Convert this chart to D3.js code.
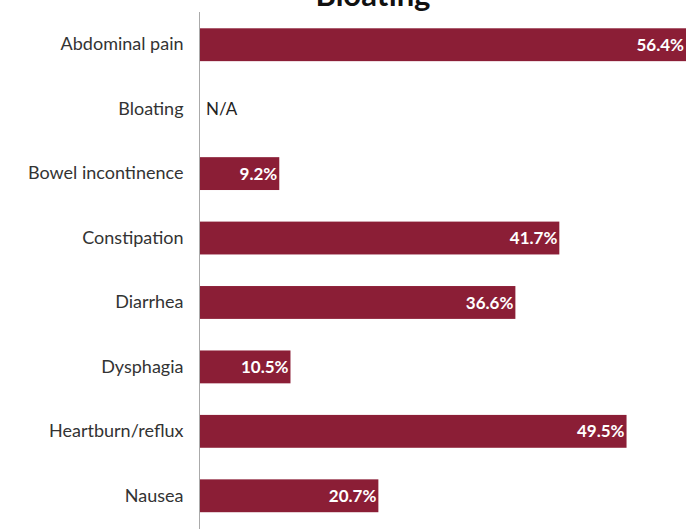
<!DOCTYPE html>
<html><head><meta charset="utf-8">
<script src="https://cdn.jsdelivr.net/npm/d3@7"></script>
<style>body{margin:0;background:#fff}svg{display:block}</style>
</head><body>
<svg id="c" width="699" height="529"></svg>
<script>
const title = "Bloating";
const categories = ["Abdominal pain","Bloating","Bowel incontinence","Constipation","Diarrhea","Dysphagia","Heartburn/reflux","Nausea"];
const values = [56.4, null, 9.2, 41.7, 36.6, 10.5, 49.5, 20.7];
const valueLabels = ["56.4%","N/A","9.2%","41.7%","36.6%","10.5%","49.5%","20.7%"];

const svg = d3.select("#c");
const left = 200;
const x = d3.scaleLinear().domain([0, 56.4]).range([left, 686]);
const y = d3.scaleBand().domain(categories).range([12.5, 528]).paddingInner(0.49).paddingOuter(0.245);

svg.append("text").attr("x", 373).attr("y", 6).attr("text-anchor","middle")
  .attr("font-family","Lato, 'Open Sans', sans-serif").attr("font-weight","bold")
  .attr("font-size", 31).attr("fill","#111").text(title);

const data = categories.map((c,i)=>({c, v: values[i], l: valueLabels[i]}));

svg.selectAll("rect.bar").data(data.filter(d=>d.v!=null)).join("rect")
  .attr("class","bar")
  .attr("x", x(0)).attr("y", d=>y(d.c))
  .attr("width", d=>x(d.v)-x(0)).attr("height", y.bandwidth())
  .attr("fill","#8B1E36");

svg.selectAll("text.val").data(data).join("text")
  .attr("class","val")
  .attr("x", d=> d.v==null ? x(0)+6 : x(d.v)-2)
  .attr("y", d=>y(d.c)+y.bandwidth()/2)
  .attr("dy","0.36em")
  .attr("text-anchor", d=> d.v==null ? "start" : "end")
  .attr("font-family","Lato, 'Open Sans', sans-serif")
  .attr("font-weight", d=> d.v==null ? "normal" : "bold")
  .attr("font-size", 17)
  .attr("fill", d=> d.v==null ? "#222" : "#fff")
  .text(d=>d.l);

const ax = d3.axisLeft(y).tickSize(0).tickPadding(16);
const g = svg.append("g").attr("transform",`translate(${left-0.5},0)`).call(ax);
g.select(".domain").attr("stroke","#aaa").attr("stroke-width",1).attr("d","M0,12V529");
g.selectAll("text").attr("font-family","Lato, 'Open Sans', sans-serif").attr("font-size",18).attr("fill","#333");
</script>
</body></html>
